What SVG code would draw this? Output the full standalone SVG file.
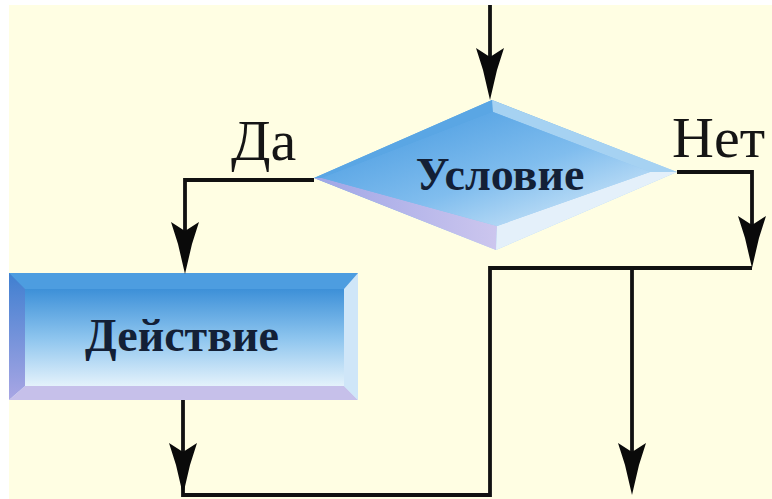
<svg xmlns="http://www.w3.org/2000/svg" width="772" height="499" viewBox="0 0 772 499">
  <defs>
    <style>
      .wire { fill: none; stroke: #111; stroke-width: 3.8; stroke-linejoin: miter; }
      .head { fill: #0a0a0a; }
      .label { font-family: "Liberation Serif", "Times New Roman", serif; font-size: 58px; fill: #151515; }
      .title { font-family: "Liberation Serif", "Times New Roman", serif; font-size: 46px; font-weight: bold; fill: #132036; text-anchor: middle; }
    </style>
    <!-- dart-shaped arrowhead, tip at the origin, pointing down -->
    <path id="dart" class="head" d="M0,0 L-7,-30 L-14,-52 L0,-43 L14,-52 L7,-30 Z"/>
    <linearGradient id="faceDiamond" x1="0" y1="0" x2="1" y2="1">
      <stop offset="0" stop-color="#3f95de"/>
      <stop offset="0.55" stop-color="#80bdee"/>
      <stop offset="1" stop-color="#e2f1fb"/>
    </linearGradient>
    <linearGradient id="faceRect" x1="0" y1="0" x2="0" y2="1">
      <stop offset="0" stop-color="#3d90d8"/>
      <stop offset="0.5" stop-color="#8cc4ee"/>
      <stop offset="1" stop-color="#e4f2fb"/>
    </linearGradient>
    <linearGradient id="lavender" x1="0" y1="0" x2="1" y2="0">
      <stop offset="0" stop-color="#9fa6e6"/>
      <stop offset="1" stop-color="#ccc6ee"/>
    </linearGradient>
    <linearGradient id="leftEdge" x1="0" y1="0" x2="0" y2="1">
      <stop offset="0" stop-color="#3f7fd0"/>
      <stop offset="1" stop-color="#a9a6e4"/>
    </linearGradient>
  </defs>

  <!-- page -->
  <rect x="0" y="0" width="772" height="499" fill="#ffffff"/>
  <rect x="9" y="5" width="763" height="494" fill="#fffee3"/>

  <!-- decision node -->
  <g id="node-condition">
    <polygon points="492,100 677,172 496,250 314,178" fill="url(#faceDiamond)"/>
    <!-- bevel facets -->
    <polygon points="492,100 314,178 322,178 493,112" fill="#5aa6e4"/>
    <polygon points="492,100 677,172 650,172 493,112" fill="#a6d2f2"/>
    <polygon points="314,178 496,250 497,226 322,178" fill="url(#lavender)"/>
    <polygon points="496,250 677,172 650,172 497,226" fill="#e4f0fa"/>
    <polygon points="493,112 650,172 497,226 322,178" fill="url(#faceDiamond)"/>
    <text class="title" x="500" y="190">Условие</text>
  </g>

  <!-- action node -->
  <g id="node-action">
    <rect x="9" y="273" width="349" height="127" fill="url(#faceRect)"/>
    <polygon points="9,273 358,273 344,289 25,289" fill="#4d9de0"/>
    <polygon points="9,273 25,289 25,386 9,400" fill="url(#leftEdge)"/>
    <polygon points="9,400 25,386 344,386 358,400" fill="#c6c0ea"/>
    <polygon points="358,273 358,400 344,386 344,289" fill="#cfe6f8"/>
    <rect x="25" y="289" width="319" height="97" fill="url(#faceRect)"/>
    <text class="title" x="182" y="351">Действие</text>
  </g>

  <!-- branch labels -->
  <text class="label" x="231" y="160">Да</text>
  <text class="label" x="672" y="157">Нет</text>

  <!-- connectors -->
  <g id="connectors">
    <path class="wire" d="M490,5 V60"/>
    <use href="#dart" x="490" y="100"/>

    <path class="wire" d="M314,180 H185 V235"/>
    <use href="#dart" x="185" y="274"/>

    <path class="wire" d="M677,172 H752 V230"/>
    <use href="#dart" x="752" y="268"/>

    <path class="wire" d="M752,268 H490 V495 H183 V400"/>
    <use href="#dart" x="183" y="495"/>

    <path class="wire" d="M632,268 V455"/>
    <use href="#dart" x="632" y="495"/>
  </g>
</svg>
